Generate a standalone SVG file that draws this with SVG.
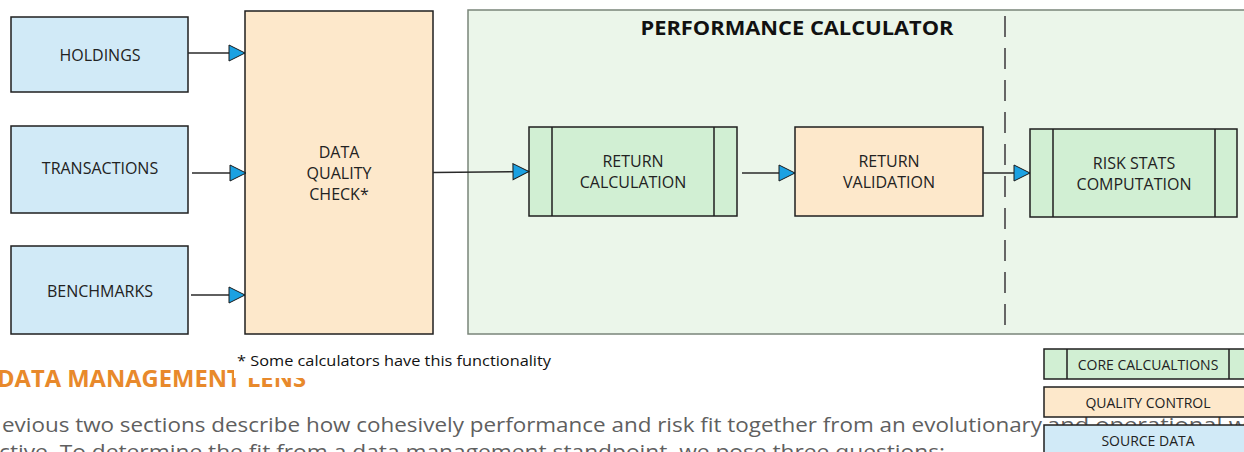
<svg xmlns="http://www.w3.org/2000/svg" width="1244" height="452" viewBox="0 0 1244 452">
  <style>
    .src{fill:#D1EAF7;stroke:#1f1f1f;stroke-width:1.5}
    .qc{fill:#FDE8CB;stroke:#1f1f1f;stroke-width:1.5}
    .core{fill:#D1EFD3;stroke:#1f1f1f;stroke-width:1.5}
    .div{stroke:#1f1f1f;stroke-width:1.5;fill:none}
    .lbl{font-family:"Open Sans","Noto Sans",sans-serif;font-size:16px;fill:#222;text-anchor:middle}
    .leg{font-family:"Open Sans","Noto Sans",sans-serif;font-size:14px;fill:#222;text-anchor:middle}
    .conn{stroke:#2a2a2a;stroke-width:1.5;fill:none;marker-end:url(#arr)}
    .body{font-family:"Open Sans","Noto Sans",sans-serif;font-size:20px;fill:#5f5f5f}
  </style>
  <defs>
    <marker id="arr" markerWidth="18" markerHeight="18" refX="17" refY="9" orient="auto" markerUnits="userSpaceOnUse">
      <path d="M1,1 L17,9 L1,17 Z" fill="#1BA1E2" stroke="#1a1a1a" stroke-width="1"/>
    </marker>
  </defs>
  <rect width="1244" height="452" fill="#ffffff"/>

  <!-- background document text -->
  <g id="doc-text">
    <text x="-3" y="387" font-family="'Open Sans','Noto Sans',sans-serif" font-size="23.5" font-weight="bold" fill="#E8892B" textLength="309" lengthAdjust="spacingAndGlyphs">DATA MANAGEMENT LENS</text>
    <rect x="234" y="343" width="330" height="35" fill="#ffffff"/>
    <text x="237" y="366" font-family="'Open Sans','Noto Sans',sans-serif" font-size="14.5" fill="#111" textLength="314" lengthAdjust="spacingAndGlyphs">* Some calculators have this functionality</text>
    <text class="body" y="432"><tspan x="2" textLength="1040" lengthAdjust="spacingAndGlyphs">evious two sections describe how cohesively performance and risk fit together from an evolutionary</tspan><tspan x="1047" textLength="200" lengthAdjust="spacingAndGlyphs">and operational w</tspan></text>
    <text class="body" x="-1" y="459" textLength="946" lengthAdjust="spacingAndGlyphs">ctive. To determine the fit from a data management standpoint, we pose three questions:</text>
  </g>

  <!-- container -->
  <g id="performance-calculator">
    <rect x="468" y="10" width="790" height="324" fill="#EBF6EA" stroke="#7A857A" stroke-width="1.5"/>
    <text x="797" y="35" font-family="'Open Sans','Noto Sans',sans-serif" font-size="19" font-weight="bold" fill="#111" text-anchor="middle" textLength="313" lengthAdjust="spacingAndGlyphs">PERFORMANCE CALCULATOR</text>
    <line x1="1005" y1="16" x2="1005" y2="334" stroke="#666" stroke-width="2" stroke-dasharray="21 11"/>
  </g>

  <g id="holdings">
    <rect class="src" x="11" y="17" width="177" height="75"/>
    <text class="lbl" x="100" y="61">HOLDINGS</text>
  </g>
  <g id="transactions">
    <rect class="src" x="11" y="126" width="177" height="87"/>
    <text class="lbl" x="100" y="174">TRANSACTIONS</text>
  </g>
  <g id="benchmarks">
    <rect class="src" x="11" y="246" width="177" height="88"/>
    <text class="lbl" x="100" y="297">BENCHMARKS</text>
  </g>

  <g id="data-quality-check">
    <rect class="qc" x="245" y="11" width="188" height="323"/>
    <text class="lbl" x="339" y="158">DATA</text>
    <text class="lbl" x="339" y="179">QUALITY</text>
    <text class="lbl" x="339" y="200">CHECK*</text>
  </g>

  <g id="return-calculation">
    <rect class="core" x="529" y="127" width="208" height="89"/>
    <path class="div" d="M552,127 V216 M714,127 V216"/>
    <text class="lbl" x="633" y="167">RETURN</text>
    <text class="lbl" x="633" y="188">CALCULATION</text>
  </g>

  <g id="return-validation">
    <rect class="qc" x="795" y="127" width="188" height="89"/>
    <text class="lbl" x="889" y="167">RETURN</text>
    <text class="lbl" x="889" y="188">VALIDATION</text>
  </g>

  <g id="risk-stats">
    <rect class="core" x="1030" y="129" width="207" height="88"/>
    <path class="div" d="M1053,129 V217 M1215,129 V217"/>
    <text class="lbl" x="1134" y="169">RISK STATS</text>
    <text class="lbl" x="1134" y="190">COMPUTATION</text>
  </g>

  <g id="connectors">
    <path class="conn" d="M188,53 L245,53"/>
    <path class="conn" d="M192,173 L246,173"/>
    <path class="conn" d="M191,295 L245,295"/>
    <path class="conn" d="M433,172.5 L529,171.5"/>
    <path class="conn" d="M742,173 L795,173"/>
    <path class="conn" d="M983,173 L1030,173"/>
  </g>

  <g id="legend-core">
    <rect class="core" x="1044" y="349" width="208" height="30"/>
    <path class="div" d="M1067,349 V379 M1229,349 V379"/>
    <text class="leg" x="1148" y="370">CORE CALCUALTIONS</text>
  </g>
  <g id="legend-quality">
    <rect class="qc" x="1044" y="387" width="208" height="30"/>
    <text class="leg" x="1148" y="408">QUALITY CONTROL</text>
  </g>
  <g id="legend-source">
    <rect class="src" x="1044" y="425" width="208" height="40"/>
    <text class="leg" x="1148" y="446">SOURCE DATA</text>
  </g>
</svg>
